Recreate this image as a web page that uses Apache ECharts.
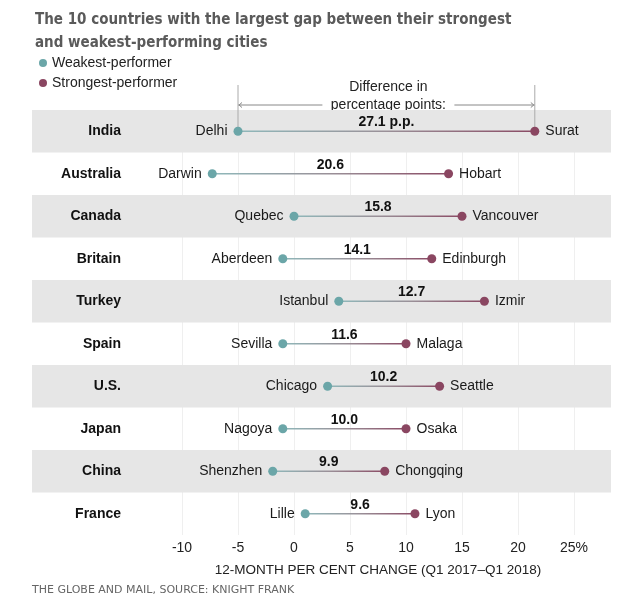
<!DOCTYPE html>
<html>
<head>
<meta charset="utf-8">
<script src="https://cdn.jsdelivr.net/npm/echarts@6/dist/echarts.min.js"></script>
<style>
  html, body { margin: 0; padding: 0; background: #fff; }
  #chart { width: 638px; height: 613px; }
</style>
</head>
<body>
<div id="chart"></div>
<script>
// data
var countries = ['India', 'Australia', 'Canada', 'Britain', 'Turkey', 'Spain', 'U.S.', 'Japan', 'China', 'France'];
var weakCities = ['Delhi', 'Darwin', 'Quebec', 'Aberdeen', 'Istanbul', 'Sevilla', 'Chicago', 'Nagoya', 'Shenzhen', 'Lille'];
var weakValues = [-5.0, -7.3, 0.0, -1.0, 4.0, -1.0, 3.0, -1.0, -1.9, 1.0];
var strongCities = ['Surat', 'Hobart', 'Vancouver', 'Edinburgh', 'Izmir', 'Malaga', 'Seattle', 'Osaka', 'Chongqing', 'Lyon'];
var strongValues = [21.5, 13.8, 15.0, 12.3, 17.0, 10.0, 13.0, 10.0, 8.1, 10.8];
var gapLabels = ['27.1 p.p.', '20.6', '15.8', '14.1', '12.7', '11.6', '10.2', '10.0', '9.9', '9.6'];
var xTicks = [-10, -5, 0, 5, 10, 15, 20, 25];

var TEAL = '#6ba6a8';
var PLUM = '#8a4661';
var FONT = '"Liberation Sans", Arial, sans-serif';
var NARROW = '"Liberation Sans Narrow", "DejaVu Sans Condensed", sans-serif';

var chart = echarts.init(document.getElementById('chart'));

var gapData = [];
for (var i = 0; i < countries.length; i++) {
  gapData.push([weakValues[i], strongValues[i], i]);
}

function renderGap(params, api) {
  var i = api.value(2);
  var p1 = api.coord([api.value(0), i]);
  var p2 = api.coord([api.value(1), i]);
  return {
    type: 'group',
    children: [{
      type: 'line',
      shape: { x1: p1[0], y1: p1[1], x2: p2[0], y2: p2[1] },
      style: {
        lineWidth: 1.5,
        stroke: new echarts.graphic.LinearGradient(0, 0, 1, 0, [
          { offset: 0, color: '#8fb8ba' },
          { offset: 0.5, color: '#9a9098' },
          { offset: 1, color: '#8a4a64' }
        ])
      }
    }, {
      type: 'text',
      style: {
        x: (p1[0] + p2[0]) / 2,
        y: p1[1] - 2,
        text: gapLabels[i],
        align: 'center',
        verticalAlign: 'bottom',
        font: 'bold 14px ' + FONT,
        fill: '#111'
      }
    }]
  };
}

chart.setOption({
  animation: false,
  title: {
    text: 'The 10 countries with the largest gap between their strongest\nand weakest-performing cities',
    left: 30,
    top: 4,
    textStyle: { fontSize: 15, fontWeight: 'bold', color: '#5a5a5a', fontFamily: NARROW, lineHeight: 23 }
  },
  legend: {
    orient: 'vertical',
    left: 34,
    top: 51,
    itemWidth: 8,
    itemHeight: 8,
    itemGap: 6,
    icon: 'circle',
    data: ['Weakest-performer', 'Strongest-performer'],
    textStyle: { fontSize: 14, color: '#222', fontFamily: FONT }
  },
  grid: [
    { left: 32, right: 27, top: 110, height: 425 },
    { left: 182, right: 64, top: 110, height: 425 }
  ],
  xAxis: [{
    gridIndex: 0, type: 'value', show: false, min: 0, max: 1
  }, {
    gridIndex: 1,
    type: 'value',
    min: xTicks[0],
    max: xTicks[xTicks.length - 1],
    interval: 5,
    z: 0,
    axisLine: { show: false },
    axisTick: { show: false },
    splitLine: { show: true, lineStyle: { color: '#efefef', width: 1 } },
    axisLabel: {
      fontSize: 14, color: '#222', fontFamily: FONT, margin: 6,
      formatter: function (v) { return v === 25 ? '25%' : String(v); }
    },
    name: '12-MONTH PER CENT CHANGE (Q1 2017\u2013Q1 2018)',
    nameLocation: 'middle',
    nameGap: 28,
    nameTextStyle: { fontSize: 13.5, color: '#222', fontFamily: FONT }
  }],
  yAxis: [{
    gridIndex: 0,
    type: 'category',
    inverse: true,
    data: countries,
    z: 1,
    axisLine: { show: false },
    axisTick: { show: false },
    axisLabel: { show: false },
    splitLine: { show: false },
    splitArea: { show: true, areaStyle: { color: ['#e6e6e6', 'rgba(255,255,255,0)'] } }
  }, {
    gridIndex: 1,
    type: 'category',
    inverse: true,
    data: countries,
    z: 2,
    axisLine: { show: false },
    axisTick: { show: false },
    splitLine: { show: false },
    axisLabel: { fontSize: 14, fontWeight: 'bold', color: '#111', fontFamily: FONT, margin: 61 }
  }],
  series: [{
    name: 'gap',
    type: 'custom',
    xAxisIndex: 1,
    yAxisIndex: 1,
    z: 3,
    renderItem: renderGap,
    encode: { x: [0, 1], y: 2 },
    data: gapData
  }, {
    name: 'Weakest-performer',
    type: 'scatter',
    xAxisIndex: 1,
    yAxisIndex: 1,
    z: 4,
    symbolSize: 9,
    itemStyle: { color: TEAL, opacity: 1 },
    label: {
      show: true, position: 'left', distance: 6,
      fontSize: 14, color: '#1a1a1a', fontFamily: FONT,
      formatter: function (p) { return weakCities[p.dataIndex]; }
    },
    data: weakValues.map(function (v, i) { return [v, i]; })
  }, {
    name: 'Strongest-performer',
    type: 'scatter',
    xAxisIndex: 1,
    yAxisIndex: 1,
    z: 4,
    symbolSize: 9,
    itemStyle: { color: PLUM, opacity: 1 },
    label: {
      show: true, position: 'right', distance: 6,
      fontSize: 14, color: '#1a1a1a', fontFamily: FONT,
      formatter: function (p) { return strongCities[p.dataIndex]; }
    },
    data: strongValues.map(function (v, i) { return [v, i]; })
  }]
});

// annotation bracket over the first (widest) row, anchored on its two dots
var pa = chart.convertToPixel({ seriesIndex: 1 }, [weakValues[0], 0]);
var pb = chart.convertToPixel({ seriesIndex: 2 }, [strongValues[0], 0]);
var midX = (pa[0] + pb[0]) / 2 + 2;
var arrowY = 105;
var halfText = 62;
var lineCol = '#888';
chart.setOption({
  graphic: [
    { type: 'line', z: 1, shape: { x1: pa[0], y1: 85, x2: pa[0], y2: pa[1] }, style: { stroke: '#aaa', lineWidth: 1 } },
    { type: 'line', z: 1, shape: { x1: pb[0], y1: 85, x2: pb[0], y2: pb[1] }, style: { stroke: '#aaa', lineWidth: 1 } },
    { type: 'line', shape: { x1: pa[0], y1: arrowY, x2: midX - halfText - 4, y2: arrowY }, style: { stroke: lineCol, lineWidth: 1 } },
    { type: 'line', shape: { x1: midX + halfText + 4, y1: arrowY, x2: pb[0], y2: arrowY }, style: { stroke: lineCol, lineWidth: 1 } },
    { type: 'polyline', shape: { points: [[pa[0] + 4, arrowY - 2.5], [pa[0] + 1, arrowY], [pa[0] + 4, arrowY + 2.5]] }, style: { stroke: lineCol, fill: null, lineWidth: 1 } },
    { type: 'polyline', shape: { points: [[pb[0] - 4, arrowY - 2.5], [pb[0] - 1, arrowY], [pb[0] - 4, arrowY + 2.5]] }, style: { stroke: lineCol, fill: null, lineWidth: 1 } },
    { type: 'text', style: { x: midX, y: 87, text: 'Difference in', align: 'center', verticalAlign: 'middle', font: '14px ' + FONT, fill: '#222' } },
    { type: 'text', style: { x: midX, y: arrowY, text: 'percentage points:', align: 'center', verticalAlign: 'middle', font: '14px ' + FONT, fill: '#222' } },
    { type: 'text', style: { x: 32, y: 590, text: 'THE GLOBE AND MAIL, SOURCE: KNIGHT FRANK', align: 'left', verticalAlign: 'middle', font: '11px "DejaVu Sans", sans-serif', fill: '#666' } }
  ]
});
</script>
</body>
</html>
